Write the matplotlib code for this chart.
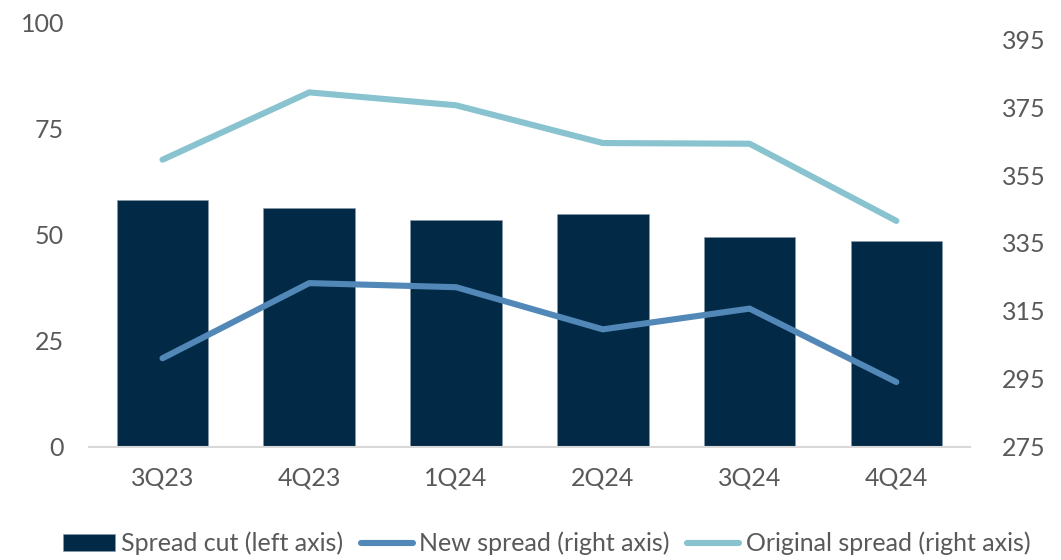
import matplotlib.pyplot as plt
import numpy as np

# quarterly spread data
quarters = ['3Q23', '4Q23', '1Q24', '2Q24', '3Q24', '4Q24']
spread_cut = [58.2, 56.2, 53.4, 54.9, 49.5, 48.4]
new_spread = [301.1, 323.2, 322.0, 309.6, 315.7, 294.1]
orig_spread = [359.5, 379.3, 375.5, 364.4, 364.2, 341.5]

left_ticks = [0, 25, 50, 75, 100]
right_ticks = [275, 295, 315, 335, 355, 375, 395]

navy = '#022a47'
blue = '#5188b8'
teal = '#88c3cf'
grey = '#595959'

plt.rcParams['font.family'] = ['Lato', 'DejaVu Sans']

fig = plt.figure(figsize=(10.61, 5.6), dpi=100)
ax = fig.add_axes([0.084, 0.2018, 0.83, 0.7589])
ax2 = ax.twinx()

x = np.arange(len(quarters))
bars = ax.bar(x, spread_cut, width=0.625, color=navy, edgecolor='#8a9aa8',
              linewidth=0.4, label='Spread cut (left axis)', zorder=2)
l1, = ax2.plot(x, new_spread, color=blue, lw=4.4, solid_capstyle='round',
               solid_joinstyle='round', label='New spread (right axis)')
l2, = ax2.plot(x, orig_spread, color=teal, lw=4.4, solid_capstyle='round',
               solid_joinstyle='round', label='Original spread (right axis)')

ax.set_xlim(-0.5, len(quarters) - 0.5)
ax.set_ylim(0, 100)
ax2.set_ylim(275, 400)
ax.set_yticks(left_ticks)
ax2.set_yticks(right_ticks)
ax.set_xticks(x)
ax.set_xticklabels(quarters)

for a in (ax, ax2):
    for s in a.spines.values():
        s.set_visible(False)
    a.tick_params(length=0, labelsize=18, labelcolor=grey)
ax.spines['bottom'].set_visible(True)
ax.spines['bottom'].set_color('#d9d9d9')
ax.spines['bottom'].set_linewidth(1.5)
ax.tick_params(axis='x', pad=14)
ax.tick_params(axis='y', pad=18)
ax2.tick_params(axis='y', pad=23)

leg = fig.legend(handles=[bars, l1, l2], loc='lower center', ncol=3,
                 bbox_to_anchor=(0.515, -0.032), frameon=False, fontsize=18,
                 handlelength=2.1, handletextpad=0.25, columnspacing=0.68,
                 labelcolor=grey)

fig.savefig('out.png', dpi=100)
